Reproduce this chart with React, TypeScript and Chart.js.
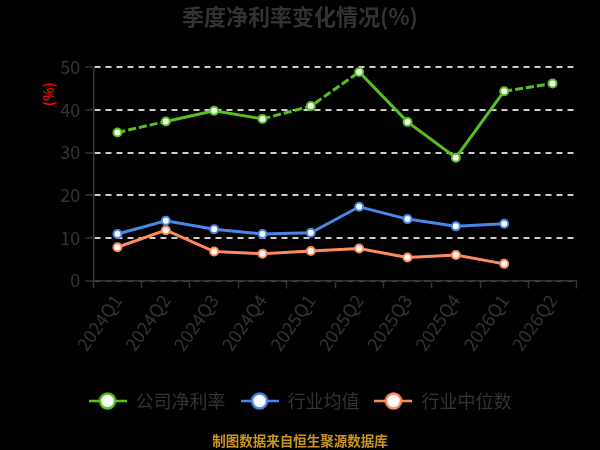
import { useEffect, useRef } from "react";
import { Chart, registerables } from "chart.js";

Chart.register(...registerables);

const quarters = [
  "2024Q1", "2024Q2", "2024Q3", "2024Q4",
  "2025Q1", "2025Q2", "2025Q3", "2025Q4",
  "2026Q1", "2026Q2",
];
const companyMargin = [34.7, 37.3, 39.8, 37.9, 40.9, 48.9, 37.2, 28.8, 44.4, 46.2];
const industryMean = [10.9, 14.0, 12.0, 10.9, 11.2, 17.3, 14.4, 12.7, 13.3, null];
const industryMedian = [7.8, 11.8, 6.8, 6.3, 6.9, 7.5, 5.4, 6.0, 3.9, null];
const seriesNames = ["公司净利率", "行业均值", "行业中位数"];
const yMin = 0;
const yMax = 50;
const yStep = 10;

const colors = ["#56c11f", "#4a86e8", "#ff8a5c"];
// segments of the company line that look dashed in the picture
const dashedFrom = [0, 3, 4, 8];
const font = "'Noto Sans CJK SC', 'Noto Sans', sans-serif";
const textColor = "#333333";

// line-with-circle legend marker
const makeMarker = (color: string) => {
  const c = document.createElement("canvas");
  c.width = 38;
  c.height = 20;
  const ctx = c.getContext("2d")!;
  ctx.strokeStyle = color;
  ctx.lineWidth = 2.5;
  ctx.beginPath();
  ctx.moveTo(0, 10);
  ctx.lineTo(38, 10);
  ctx.stroke();
  ctx.beginPath();
  ctx.arc(19, 10, 7.5, 0, Math.PI * 2);
  ctx.fillStyle = "#fff";
  ctx.fill();
  ctx.stroke();
  return c;
};

const yTitlePlugin = {
  id: "yTitle",
  afterDraw(chart: Chart) {
    const { ctx, chartArea } = chart;
    ctx.save();
    ctx.translate(chartArea.left - 45, chartArea.top + 27);
    ctx.rotate(-Math.PI / 2);
    ctx.fillStyle = "#ff0000";
    ctx.font = `bold 14px ${font}`;
    ctx.textAlign = "center";
    ctx.textBaseline = "middle";
    ctx.fillText("(%)", 0, 0);
    ctx.restore();
  },
};

const App = () => {
  const chartRef = useRef<HTMLCanvasElement>(null);
  const chartInstanceRef = useRef<Chart | null>(null);

  useEffect(() => {
    document.body.style.margin = "0";
    document.body.style.background = "#000";
    if (!chartRef.current) return;
    const ctx = chartRef.current.getContext("2d");
    if (!ctx) return;

    if (chartInstanceRef.current) {
      chartInstanceRef.current.destroy();
    }

    const markers = colors.map(makeMarker);
    const values = [companyMargin, industryMean, industryMedian];

    chartInstanceRef.current = new Chart(ctx, {
      type: "line",
      data: {
        labels: quarters,
        datasets: values.map((data, i) => ({
          label: seriesNames[i],
          data,
          borderColor: colors[i],
          backgroundColor: "#ffffff",
          borderWidth: 3,
          pointRadius: 4,
          pointBorderWidth: 2,
          pointBorderColor: colors[i],
          pointBackgroundColor: "#ffffff",
          tension: 0,
          segment:
            i === 0
              ? {
                  borderDash: (c: any) =>
                    dashedFrom.includes(c.p0DataIndex) ? [8, 3] : undefined,
                }
              : undefined,
        })),
      },
      options: {
        animation: false,
        responsive: false,
        layout: { padding: { left: 23.3, right: 23.3, top: 0, bottom: 0 } },
        plugins: {
          title: {
            display: true,
            text: "季度净利率变化情况(%)",
            color: textColor,
            font: { family: font, size: 22, weight: "bold" },
            padding: { top: 3.8, bottom: 37.1 },
          },
          subtitle: {
            display: true,
            position: "bottom",
            text: "制图数据来自恒生聚源数据库",
            color: "#c9961f",
            font: { family: font, size: 13.5, weight: "bold" },
            padding: { top: 12.9, bottom: 0.9 },
          },
          legend: {
            position: "bottom",
            labels: {
              usePointStyle: true,
              pointStyleWidth: 38,
              padding: 15,
              color: textColor,
              font: { family: font, size: 18 },
              generateLabels: (chart: Chart) =>
                Chart.defaults.plugins.legend.labels
                  .generateLabels(chart)
                  .map((item: any, i: number) => ({
                    ...item,
                    pointStyle: markers[i],
                  })),
            },
          },
          tooltip: { enabled: false },
        },
        scales: {
          x: {
            type: "category",
            offset: true,
            grid: {
              offset: true,
              drawOnChartArea: false,
              tickLength: 8,
              tickColor: "#333333",
              tickWidth: 1.5,
            },
            border: { display: true, color: "#333333", width: 1.5 },
            ticks: {
              autoSkip: false,
              maxRotation: 55,
              minRotation: 55,
              padding: 2,
              color: textColor,
              font: { family: font, size: 18 },
            },
            afterFit: (scale: any) => {
              scale.height = 96.5;
            },
          },
          y: {
            min: yMin,
            max: yMax,
            ticks: {
              stepSize: yStep,
              padding: 5,
              color: textColor,
              font: { family: font, size: 18 },
            },
            grid: {
              color: (c: any) => (c.tick && c.tick.value === 0 ? "#555555" : "#cccccc"),
              lineWidth: 2,
              tickColor: "#333333",
              tickWidth: 1.5,
              tickLength: 8,
              tickBorderDash: [],
            },
            // in Chart.js 4 the grid-line dash lives on border.dash
            border: { display: true, color: "#333333", width: 1.5, dash: [6, 5] },
            afterFit: (scale: any) => {
              scale.width = 70;
            },
          },
        },
      },
      plugins: [yTitlePlugin],
    });

    return () => {
      if (chartInstanceRef.current) {
        chartInstanceRef.current.destroy();
        chartInstanceRef.current = null;
      }
    };
  }, []);

  return (
    <div style={{ width: 600, height: 450, background: "#000" }}>
      <canvas ref={chartRef} width={600} height={450}></canvas>
    </div>
  );
};

export default App;
